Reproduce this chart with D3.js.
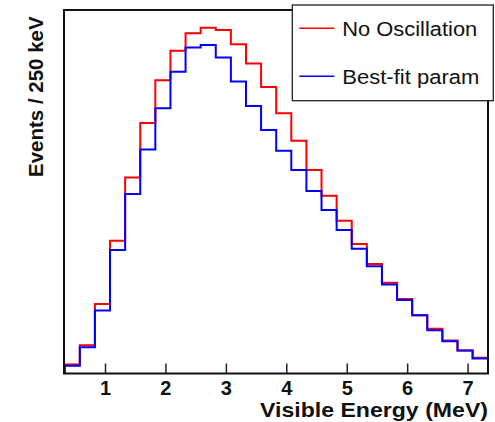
<!DOCTYPE html>
<html>
<head>
<meta charset="utf-8">
<script src="https://cdn.jsdelivr.net/npm/d3@7"></script>
<style>
  html, body { margin: 0; padding: 0; background: #fff; }
  svg { display: block; font-family: "Liberation Sans", Arial, Helvetica, sans-serif; }
</style>
</head>
<body>
<svg id="chart" width="495" height="422"></svg>
<script>
// ---- data (events per 250 keV bin, arbitrary units) ----
const binLow = [0.333, 0.583, 0.833, 1.083, 1.333, 1.583, 1.833, 2.083, 2.333, 2.583,
                2.833, 3.083, 3.333, 3.583, 3.833, 4.083, 4.333, 4.583, 4.833, 5.083,
                5.333, 5.583, 5.833, 6.083, 6.333, 6.583, 6.833, 7.083];
const binWidth = 0.25;
const noOscillation = [25, 78, 191, 365, 539, 689, 807, 888, 936, 951,
                       945, 906, 853, 788, 716, 640, 560, 489, 420, 356,
                       301, 250, 205, 160, 123, 91, 63, 43];
const bestFit = [21, 72, 173, 340, 494, 616, 730, 830, 897, 904,
                 869, 803, 736, 670, 613, 560, 502, 450, 395, 343,
                 295, 245, 202, 160, 119, 89, 63, 41];
const xTicks = [1, 2, 3, 4, 5, 6, 7];
const seriesNames = ["No Oscillation", "Best-fit param"];
const seriesColors = ["#ff0000", "#0000ff"];
const xTitle = "Visible Energy (MeV)";
const yTitle = "Events / 250 keV";

// ---- layout ----
const plot = { left: 64.7, right: 487.7, top: 10, bottom: 373.5 };
const svg = d3.select("#chart");

const x = d3.scaleLinear()
  .domain([binLow[0], binLow[binLow.length - 1] + binWidth])
  .range([plot.left, plot.right]);
const y = d3.scaleLinear().domain([0, 1000]).range([plot.bottom, plot.top]);

// histogram step lines
function stepPoints(vals) {
  const pts = [[binLow[0], 0]];
  vals.forEach((v, i) => pts.push([binLow[i], v]));
  pts.push([binLow[binLow.length - 1] + binWidth, vals[vals.length - 1]]);
  return pts;
}
const line = d3.line().x(d => x(d[0])).y(d => y(d[1])).curve(d3.curveStepAfter);

[noOscillation, bestFit].forEach((vals, i) => {
  svg.append("path")
    .attr("d", line(stepPoints(vals)))
    .attr("fill", "none")
    .attr("stroke", seriesColors[i])
    .attr("stroke-width", 2);
});

// x axis ticks (inside, upward)
const xAxis = d3.axisBottom(x).tickValues(xTicks).tickSizeInner(-10).tickSizeOuter(0).tickPadding(18)
  .tickFormat(d3.format("d"));
const gx = svg.append("g").attr("transform", `translate(0,${plot.bottom})`).call(xAxis);
gx.select(".domain").remove();
gx.selectAll(".tick line").attr("stroke", "#222").attr("stroke-width", 1.5);
gx.selectAll(".tick text")
  .attr("font-family", "Liberation Sans, Arial, sans-serif")
  .attr("font-size", 20).attr("font-weight", "bold").attr("fill", "#111")
  .attr("y", 7).attr("dy", "0.71em");

// frame
svg.append("rect")
  .attr("x", 64).attr("y", plot.top)
  .attr("width", 424).attr("height", plot.bottom - plot.top)
  .attr("fill", "none").attr("stroke", "#111").attr("stroke-width", 2);

// axis titles
svg.append("text")
  .attr("x", 488).attr("y", 416.5)
  .attr("text-anchor", "end")
  .attr("font-size", 20.5).attr("font-weight", "bold").attr("fill", "#111")
  .attr("textLength", 228).attr("lengthAdjust", "spacingAndGlyphs")
  .text(xTitle);

svg.append("text")
  .attr("transform", "translate(43,96.7) rotate(-90)")
  .attr("text-anchor", "middle")
  .attr("font-size", 20.5).attr("font-weight", "bold").attr("fill", "#111")
  .text(yTitle);

// legend
const lg = svg.append("g");
lg.append("rect")
  .attr("x", 292.3).attr("y", 5)
  .attr("width", 201).attr("height", 95.7)
  .attr("fill", "#fff").attr("stroke", "#222").attr("stroke-width", 1.3);
const legendRowsY = [28.3, 76.3];
seriesNames.forEach((name, i) => {
  lg.append("line")
    .attr("x1", 299.3).attr("x2", 334.3)
    .attr("y1", legendRowsY[i]).attr("y2", legendRowsY[i])
    .attr("stroke", seriesColors[i]).attr("stroke-width", 1.5);
  lg.append("text")
    .attr("x", 342.3).attr("y", legendRowsY[i] + 7.5)
    .attr("font-size", 20).attr("fill", "#111")
    .attr("textLength", i === 0 ? 135 : 137).attr("lengthAdjust", "spacingAndGlyphs")
    .text(name);
});
</script>
</body>
</html>
